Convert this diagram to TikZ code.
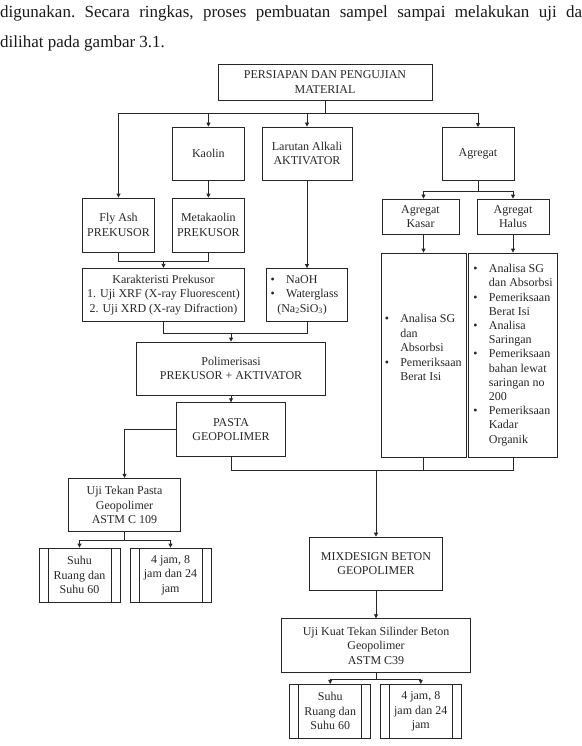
\documentclass[tikz,border=0pt]{standalone}
\usepackage{fontspec}
\setmainfont{Liberation Serif}
\usepackage{tikz}
\usetikzlibrary{
    arrows.meta
}

\newlength{\bulw}
\setlength{\bulw}{15.5pt}
\newcommand{\bitem}[1]{\makebox[\bulw][l]{\textbullet}#1}
\newcommand{\bcont}[1]{\hspace*{\bulw}#1}

\tikzset{
    box/.style={draw=black!85, line width=0.8pt, align=center, inner sep=0pt,
        font=\fontsize{12pt}{14.5pt}\selectfont, text=black!85},
    procbox/.style={box, minimum width=81pt, minimum height=54pt,
        path picture={
            \draw[black!85, line width=0.8pt]
            ([xshift=9pt]path picture bounding box.north west) -- ([xshift=9pt]path picture bounding box.south west)
            ([xshift=-9pt]path picture bounding box.north east) -- ([xshift=-9pt]path picture bounding box.south east);
        }},
    listtext/.style={align=left, inner sep=0pt, font=\fontsize{12pt}{14.5pt}\selectfont, text=black!85},
    arr/.style={-{Triangle[length=4pt,width=4pt]}, draw=black!85, line width=0.8pt},
    link/.style={draw=black!85, line width=0.8pt},
    intro/.style={anchor=base west, inner sep=0pt, font=\fontsize{17pt}{20pt}\selectfont\frenchspacing, text=black!90}
}

\begin{document}
\begin{tikzpicture}[x=1pt, y=-1pt]
    \useasboundingbox (0,0) rectangle (581,746);
    \clip (0,0) rectangle (581,746);

    % running text above the figure
    \node[intro] (intro1) at (0,18) {\makebox[582pt][s]{digunakan. Secara ringkas, proses pembuatan sampel sampai melakukan uji da}};
    \node[intro] (intro2) at (0,48) {dilihat pada gambar 3.1.};

    % boxes
    \node[box, minimum width=214pt, minimum height=36pt] (persiapan) at (325,82) {PERSIAPAN DAN PENGUJIAN\\MATERIAL};
    \node[box, minimum width=71.5pt, minimum height=53pt] (kaolin) at (208.4,153.5) {Kaolin};
    \node[box, minimum width=90pt, minimum height=53pt] (larutan) at (307,153.5) {Larutan Alkali\\AKTIVATOR};
    \node[box, minimum width=72pt, minimum height=53pt] (agregat) at (478,154) {Agregat};
    \node[box, minimum width=71.6pt, minimum height=54pt] (flyash) at (118.5,225) {Fly Ash\\PREKUSOR};
    \node[box, minimum width=72pt, minimum height=54pt] (metakaolin) at (208.4,225) {Metakaolin\\PREKUSOR};
    \node[box, minimum width=77pt, minimum height=35pt] (kasar) at (420.5,216.5) {Agregat\\Kasar};
    \node[box, minimum width=72pt, minimum height=35pt] (halus) at (513,216.5) {Agregat\\Halus};
    \node[box, minimum width=85pt, minimum height=204pt] (kasarlist) at (423.5,355) {};
    \node[box, minimum width=89.5pt, minimum height=204pt] (haluslist) at (513,355) {};
    \node[listtext, anchor=west] (kasartext) at ([xshift=4pt, yshift=7.5pt]kasarlist.west)
        {\bitem{Analisa SG}\\ \bcont{dan}\\ \bcont{Absorbsi}\\ \bitem{Pemeriksaan}\\ \bcont{Berat Isi}};
    \node[listtext, anchor=west, font=\fontsize{12pt}{14.2pt}\selectfont] (halustext) at ([xshift=5.4pt]haluslist.west)
        {\bitem{Analisa SG}\\ \bcont{dan Absorbsi}\\ \bitem{Pemeriksaan}\\ \bcont{Berat Isi}\\
         \bitem{Analisa}\\ \bcont{Saringan}\\ \bitem{Pemeriksaan}\\ \bcont{bahan lewat}\\
         \bcont{saringan no}\\ \bcont{200}\\ \bitem{Pemeriksaan}\\ \bcont{Kadar}\\ \bcont{Organik}};
    \node[box, minimum width=161.6pt, minimum height=53.4pt] (karakter) at (163.5,295)
        {Karakteristi Prekusor\\1. Uji XRF (X-ray Fluorescent)\\2. Uji XRD (X-ray Difraction)};
    \node[box, minimum width=80.6pt, minimum height=53pt, text width=72.6pt, inner xsep=4pt, align=left] (naoh) at (307,295)
        {\bitem{NaOH}\\ \bitem{Waterglass}\\ \hspace*{6.6pt}(Na\textsubscript{2}SiO\textsubscript{3})};
    \node[box, minimum width=189pt, minimum height=53pt] (polimer) at (231,368.5) {Polimerisasi\\PREKUSOR + AKTIVATOR};
    \node[box, minimum width=109.7pt, minimum height=54pt] (pasta) at (231,429.7) {PASTA\\GEOPOLIMER};
    \node[box, minimum width=112.4pt, minimum height=53.4pt] (ujipasta) at (124.5,505) {Uji Tekan Pasta\\Geopolimer\\ASTM C 109};
    \node[procbox] (suhu1) at (79.5,575) {Suhu\\Ruang dan\\Suhu 60};
    \node[procbox] (jam1) at (170.5,575) {4 jam, 8\\jam dan 24\\jam};
    \node[box, minimum width=132.3pt, minimum height=53.3pt] (mix) at (376,563.7) {MIXDESIGN BETON\\GEOPOLIMER};
    \node[box, minimum width=188.6pt, minimum height=53.6pt] (ujikuat) at (376,645.5) {Uji Kuat Tekan Silinder Beton\\Geopolimer\\ASTM C39};
    \node[procbox] (suhu2) at (330.2,711.3) {Suhu\\Ruang dan\\Suhu 60};
    \node[procbox] (jam2) at (420.8,711.3) {4 jam, 8\\jam dan 24\\jam};

    % connectors
    \draw[link] (persiapan.south) -- ++(0,13.3) coordinate (bus1);
    \draw[arr] (bus1) -| (flyash.north);
    \draw[arr] (bus1) -| (kaolin.north);
    \draw[arr] (bus1) -| (larutan.north);
    \draw[arr] (bus1) -| (agregat.north);
    \draw[arr] (kaolin.south) -- (metakaolin.north);
    \draw[arr] (larutan.south) -- (naoh.north);
    \draw[link] (agregat.south) -- ++(0,10) coordinate (bus2);
    \draw[arr] (bus2) -| (kasarlist.north |- kasar.north);
    \draw[arr] (bus2) -| (halus.north);
    \draw[arr] (kasar.south -| kasarlist.north) -- (kasarlist.north);
    \draw[arr] (halus.south) -- (haluslist.north);
    \draw[link] (flyash.south) -- ++(0,9) coordinate (join1) -| (metakaolin.south);
    \draw[arr] (join1 -| karakter.north) -- (karakter.north);
    \draw[link] (karakter.south) -- ++(0,11) coordinate (join2) -| (naoh.south);
    \draw[arr] (join2 -| polimer.north) -- (polimer.north);
    \draw[arr] (polimer.south) -- (pasta.north);
    \draw[arr] (pasta.west) -| (ujipasta.north);
    \draw[link] (pasta.south) -- ++(0,13.3) coordinate (join3) -| (haluslist.south);
    \draw[link] (kasarlist.south) -- (kasarlist.south |- join3);
    \draw[arr] (join3 -| mix.north) -- (mix.north);
    \draw[arr] (mix.south) -- (ujikuat.north);
    \draw[link] (ujipasta.south) -- ++(0,8.3) coordinate (bus4);
    \draw[arr] (bus4) -| (suhu1.north);
    \draw[arr] (bus4) -| (jam1.north);
    \draw[link] (ujikuat.south) -- ++(0,6.7) coordinate (bus3);
    \draw[arr] (bus3) -| (suhu2.north);
    \draw[arr] (bus3) -| (jam2.north);
\end{tikzpicture}
\end{document}
